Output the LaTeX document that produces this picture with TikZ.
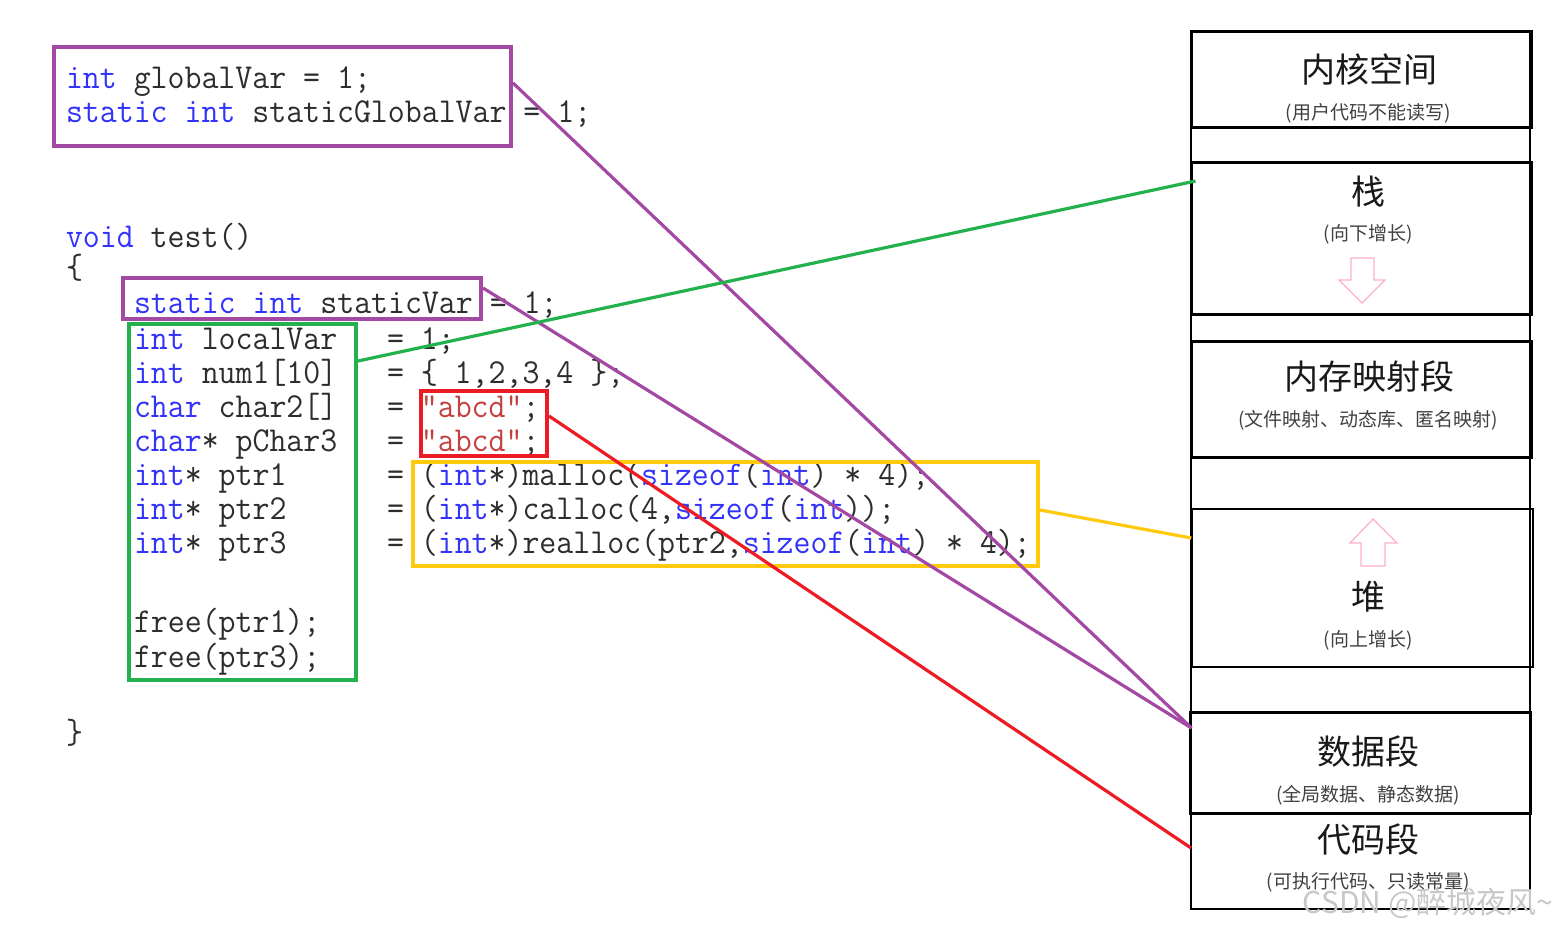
\documentclass[tikz,border=0pt]{standalone}
\usepackage{fontspec}
\usepackage{graphicx}
\newfontfamily\cjk{Noto Sans CJK SC}
\definecolor{pur}{RGB}{163,73,164}
\definecolor{grn}{RGB}{34,177,76}
\definecolor{rd}{RGB}{237,28,36}
\definecolor{ylw}{RGB}{255,201,14}
\definecolor{kwc}{RGB}{50,50,250}
\definecolor{txc}{RGB}{45,45,45}
\definecolor{strc}{RGB}{196,64,64}
\definecolor{pinkc}{RGB}{255,174,201}
\newcommand\kw[1]{\textcolor{kwc}{#1}}
\newcommand\stc[1]{\textcolor{strc}{#1}}
\newcommand\cl[1]{\scalebox{0.94}[1]{\fontsize{35}{35}\selectfont\ttfamily #1}}
\tikzset{
 code/.style={anchor=base west, inner sep=0pt, outer sep=0pt, text=txc},
 hl/.style={draw=#1, line width=4pt, inner sep=0pt},
 link/.style={draw=#1, line width=3.2pt},
 seg/.style={draw=black, line width=3pt, inner sep=0pt},
 segthin/.style={draw=black, line width=1.5pt, inner sep=0pt},
 ttl/.style={font=\cjk\fontsize{34}{34}\selectfont, text=black!90, inner sep=0pt},
 subt/.style={font=\cjk\fontsize{19}{19}\selectfont, text=black!75, inner sep=0pt},
 pinkarrow/.style={draw=pinkc, line width=1.2pt},
}
\begin{document}
\begin{tikzpicture}[x=1pt,y=-1pt]
\useasboundingbox (0,0) rectangle (1559,931);
% code
\node[code] (g1) at (66,89) {\cl{\kw{int} globalVar = 1;}};
\node[code] (g2) at (66,123) {\cl{\kw{static} \kw{int} staticGlobalVar = 1;}};
\node[code] (f0) at (66,247) {\cl{\kw{void} test()}};
\node[code] (ob) at (66,278) {\cl{\{}};
\node[code] (sv) at (134,313) {\cl{\kw{static} \kw{int} staticVar = 1;}};
\node[code] (a1) at (134,349) {\cl{\kw{int} localVar}};
\node[code] (b1) at (387,349) {\cl{= 1;}};
\node[code] (a2) at (134,383) {\cl{\kw{int} num1[10]}};
\node[code] (b2) at (387,383) {\cl{= \{ 1,2,3,4 \};}};
\node[code] (a3) at (134,417) {\cl{\kw{char} char2[]}};
\node[code] (b3) at (387,417) {\cl{= \stc{"abcd"};}};
\node[code] (a4) at (134,451) {\cl{\kw{char}* pChar3}};
\node[code] (b4) at (387,451) {\cl{= \stc{"abcd"};}};
\node[code] (a5) at (134,485) {\cl{\kw{int}* ptr1}};
\node[code] (b5) at (387,485) {\cl{= (\kw{int}*)malloc(\kw{sizeof}(\kw{int}) * 4);}};
\node[code] (a6) at (134,519) {\cl{\kw{int}* ptr2}};
\node[code] (b6) at (387,519) {\cl{= (\kw{int}*)calloc(4,\kw{sizeof}(\kw{int}));}};
\node[code] (a7) at (134,553) {\cl{\kw{int}* ptr3}};
\node[code] (b7) at (387,553) {\cl{= (\kw{int}*)realloc(ptr2,\kw{sizeof}(\kw{int}) * 4);}};
\node[code] (a8) at (134,632) {\cl{free(ptr1);}};
\node[code] (a9) at (134,667) {\cl{free(ptr3);}};
\node[code] (cb) at (66,743) {\cl{\}}};
% highlight boxes
\node[hl=pur, minimum width=457pt, minimum height=99pt] (p1) at (282.5,96.5) {};
\node[hl=pur, minimum width=358pt, minimum height=41pt] (p2) at (302,298.5) {};
\node[hl=grn, minimum width=227pt, minimum height=356pt] (gbox) at (242.5,502) {};
\node[hl=rd, minimum width=126pt, minimum height=65pt] (rbox) at (484,423.5) {};
\node[hl=ylw, minimum width=625pt, minimum height=104pt] (ybox) at (725.5,514) {};
% memory layout
\draw[line width=1.5pt] (1191,32) -- (1191,909);
\draw[line width=1.5pt] (1530,32) -- (1530,909);
\node[seg, minimum width=340pt, minimum height=96pt] (k) at (1361,80) {};
\node[seg, minimum width=340pt, minimum height=151pt] (s) at (1361,238.5) {};
\node[seg, minimum width=340pt, minimum height=116pt] (m) at (1361,399) {};
\node[segthin, minimum width=341pt, minimum height=158pt] (h) at (1362.5,588) {};
\draw[line width=3pt] (h.north west) -- (h.south west);
\node[seg, minimum width=340pt, minimum height=101pt] (d) at (1360,762.5) {};
\node[draw=black, line width=2pt, inner sep=0pt, minimum width=339pt, minimum height=96pt] (c) at (1360.5,861) {};
\node[ttl] (kt) at (1369,70) {内核空间};
\node[subt] (ks) at (1368,113) {(用户代码不能读写)};
\node[ttl] (st) at (1368,192) {栈};
\node[subt] (ss) at (1368,234) {(向下增长)};
\node[ttl] (mt) at (1369,377) {内存映射段};
\node[subt] (ms) at (1368,420) {(文件映射、动态库、匿名映射)};
\node[ttl] (ht) at (1368,597) {堆};
\node[subt] (hs) at (1368,640) {(向上增长)};
\node[ttl] (dt) at (1368,752) {数据段};
\node[subt] (ds) at (1368,795) {(全局数据、静态数据)};
\node[ttl] (ct) at (1368,840) {代码段};
\node[subt] (cs) at (1368,882) {(可执行代码、只读常量)};
\draw[pinkarrow] (1351,258) -- (1374,258) -- (1374,280) -- (1385,280) -- (1362,303) -- (1339,280) -- (1351,280) -- cycle;
\draw[pinkarrow] (1373,519) -- (1397,543) -- (1385,543) -- (1385,566) -- (1361,566) -- (1361,543) -- (1350,543) -- cycle;
\node[font=\cjk\fontsize{30}{30}\selectfont, text=black!22, inner sep=0pt] (wm) at (1428,903) {CSDN @醉城夜风\textasciitilde};
% connectors
\draw[link=pur] ([yshift=13.5pt]p1.east) -- ([xshift=3pt,yshift=34.5pt]d.west);
\draw[link=pur] ([yshift=10.5pt]p2.east) -- ([xshift=3pt,yshift=34.5pt]d.west);
\draw[link=grn] ([yshift=141pt]gbox.east) -- ([xshift=6pt,yshift=57.5pt]s.west);
\draw[link=rd] ([yshift=7.5pt]rbox.east) -- ([xshift=1pt,yshift=13pt]c.west);
\draw[link=ylw] ([yshift=4pt]ybox.east) -- ([yshift=50pt]h.west);
\end{tikzpicture}
\end{document}
